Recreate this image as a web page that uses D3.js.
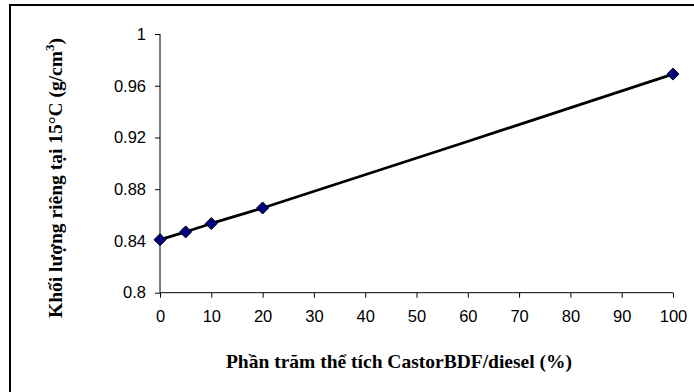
<!DOCTYPE html>
<html><head><meta charset="utf-8">
<script src="https://cdn.jsdelivr.net/npm/d3@7"></script>
<style>html,body{margin:0;padding:0;background:#fff;}svg{display:block;}</style>
</head><body>
<svg id="c" width="694" height="392"></svg>
<script>
const xValues = [0, 5, 10, 20, 100];
const densities = [0.841, 0.847, 0.8535, 0.8655, 0.969];
const xTicks = [0, 10, 20, 30, 40, 50, 60, 70, 80, 90, 100];
const yTicks = [0.8, 0.84, 0.88, 0.92, 0.96, 1];
const yTickLabels = ["0.8", "0.84", "0.88", "0.92", "0.96", "1"];
const xTitle = "Phần trăm thể tích CastorBDF/diesel (%)";
const yTitle = "Khối lượng riêng tại 15°C (g/cm";

const svg = d3.select("#c");
// outer frame (only left/top visible)
svg.append("rect").attr("x", 10).attr("y", 5).attr("width", 720).attr("height", 420)
  .attr("fill", "none").attr("stroke", "#000").attr("stroke-width", 2);

const x = d3.scaleLinear().domain([0, 100]).range([160, 673]);
const y = d3.scaleLinear().domain([0.8, 1]).range([292.7, 34]);

const yAxis = svg.append("g").attr("transform", "translate(160,0)")
  .call(d3.axisLeft(y).tickValues(yTicks).tickFormat((d, i) => yTickLabels[i]).tickSize(5).tickPadding(9));
const xAxis = svg.append("g").attr("transform", "translate(0,292.7)")
  .call(d3.axisBottom(x).tickValues(xTicks).tickFormat(d3.format("d")).tickSize(5).tickPadding(13));
[xAxis, yAxis].forEach(a => {
  a.selectAll("path,line").attr("stroke", "#000").attr("stroke-width", 1);
  a.selectAll("text").attr("font-family", "Liberation Sans, Arial, sans-serif").attr("font-size", 16.5).attr("fill", "#000");
});
xAxis.select(".domain").attr("d", "M160,0H673");
yAxis.select(".domain").attr("d", "M0,292.7V34");

const pts = xValues.map((v, i) => [x(v), y(densities[i])]);
svg.append("path").attr("d", d3.line().curve(d3.curveCatmullRom.alpha(0.5))(pts))
  .attr("fill", "none").attr("stroke", "#000").attr("stroke-width", 2.8);

svg.selectAll(".m").data(pts).enter().append("path")
  .attr("d", d => `M${d[0]},${d[1]-6}L${d[0]+6},${d[1]}L${d[0]},${d[1]+6}L${d[0]-6},${d[1]}Z`)
  .attr("fill", "#000080").attr("stroke", "#000").attr("stroke-width", 1);

svg.append("text").attr("x", 399).attr("y", 368).attr("text-anchor", "middle")
  .attr("font-family", "Liberation Serif, Times New Roman, serif").attr("font-weight", "bold").attr("font-size", 19.5)
  .text(xTitle);

const yt = svg.append("text").attr("transform", "translate(62,178) rotate(-90)").attr("text-anchor", "middle")
  .attr("font-family", "Liberation Serif, Times New Roman, serif").attr("font-weight", "bold").attr("font-size", 19.5);
yt.append("tspan").text(yTitle);
yt.append("tspan").attr("dy", -8).attr("font-size", 13).text("3");
yt.append("tspan").attr("dy", 8).text(")");
</script>
</body></html>
